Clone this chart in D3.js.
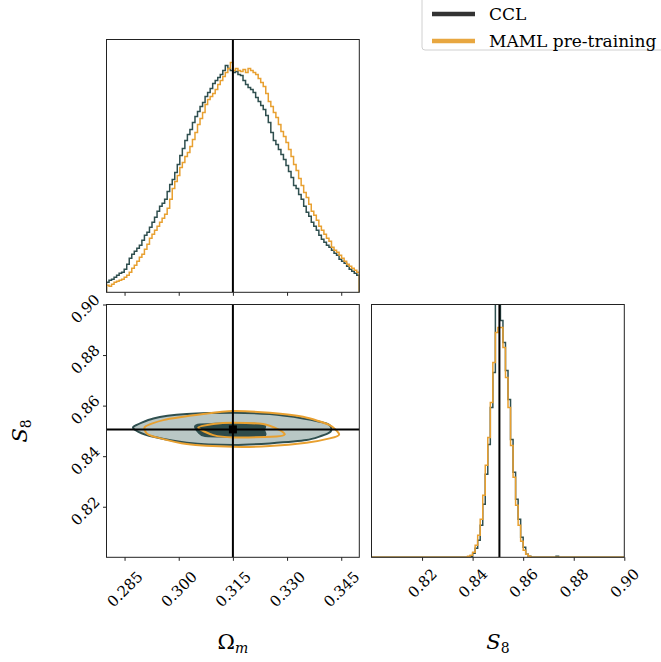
<!DOCTYPE html>
<html>
<head>
<meta charset="utf-8">
<script src="https://cdn.jsdelivr.net/npm/d3@7"></script>
<style>
  body { margin: 0; background: #fff; }
  svg { font-family: "DejaVu Serif", "Liberation Serif", serif; }
</style>
</head>
<body>
<div id="chart"></div>
<script>
// Corner plot: CCL vs MAML pre-training posteriors

// 1D histogram of Omega_m, 100 bins over [0.28, 0.35]
const omRange = [0.28, 0.35];
const cclOm = [10,12,13,15,17,19,20,23,28,34,
  38,41,44,47,52,57,60,65,70,75,
  81,86,89,93,101,108,113,120,128,137,
  144,152,158,163,170,176,181,186,190,196,
  200,204,209,212,215,218,222,227,224,222,
  220,221,218,217,212,208,205,203,200,195,
  191,187,183,177,170,160,152,148,143,138,
  133,127,121,115,107,104,98,93,86,80,
  76,70,66,62,57,53,50,47,45,42,
  39,37,33,31,29,26,23,21,19,17];
const mamlOm = [7,6,8,10,11,12,13,15,17,20,
  24,27,31,35,38,43,48,54,58,62,
  66,70,74,78,84,93,104,111,117,125,
  130,136,140,146,153,160,168,174,180,188,
  193,196,199,203,208,212,216,220,224,230,
  222,224,222,221,223,220,224,222,220,218,
  214,210,206,199,191,186,180,175,168,161,
  156,150,143,136,128,122,114,107,100,95,
  88,81,77,72,66,62,58,54,51,45,
  42,40,37,34,31,28,26,24,22,20];

// 1D histogram of S8, 100 bins over [0.80, 0.90]; bins not listed are empty
const s8Range = [0.80, 0.90];
const cclS8Bins = [39,40,41,42,43,44,45,46,47,48,49,50,51,52,53,54,55,56,57,58,59,60,61,62,73];
const cclS8 = [1,4,9,17,32,53,83,113,150,185,262,290,237,215,187,158,118,85,58,38,20,10,3,1,1];
const mamlS8Bins = [38,39,40,41,42,43,44,45,46,47,48,49,50,51,52,53,54,55,56,57,58,59,60,61,62];
const mamlS8 = [1,2,5,12,22,38,62,92,120,155,195,225,230,230,210,180,150,112,80,52,32,16,7,3,1];

// 2D contours [Omega_m, S8]
const cclOuter = [[0.28746,0.85162],[0.28884,0.84964],[0.29298,0.84767],[0.30221,0.84530],[0.31508,0.84439],
  [0.32522,0.84506],[0.33536,0.84636],[0.34133,0.84901],[0.34227,0.85099],[0.34088,0.85296],
  [0.33442,0.85494],[0.32522,0.85664],[0.31508,0.85715],[0.30221,0.85664],[0.29298,0.85494]];
const cclInner = [[0.30450,0.85170],[0.30588,0.85249],[0.31508,0.85296],[0.32343,0.85249],[0.32365,0.85032],
  [0.32356,0.84794],[0.31508,0.84775],[0.30727,0.84794],[0.30541,0.84953]];
const mamlOuter = [[0.29069,0.85162],[0.29116,0.84901],[0.29392,0.84743],[0.30221,0.84478],[0.31508,0.84372],
  [0.32522,0.84399],[0.33536,0.84530],[0.34180,0.84704],[0.34442,0.84862],[0.34180,0.85229],
  [0.33442,0.85557],[0.32522,0.85715],[0.31508,0.85783],[0.30680,0.85664],[0.29575,0.85427]];
const mamlInner = [[0.30541,0.85123],[0.30956,0.85269],[0.31508,0.85320],[0.32337,0.85269],[0.32798,0.85032],
  [0.32936,0.84862],[0.32707,0.84783],[0.31508,0.84743],[0.30956,0.84834]];

const truth = [0.315, 0.8506];
const omTicks = [0.285, 0.300, 0.315, 0.330, 0.345];
const s8Ticks = [0.82, 0.84, 0.86, 0.88, 0.90];
const seriesNames = ["CCL", "MAML pre-training"];

const cclColor = "#2f4f4f";
const mamlColor = "#e8a030";

const W = 661, H = 662;
const padL = 106.5, padT = 39.5, size = 252.8, gap = 12.2;

const svg = d3.select("#chart").append("svg")
  .attr("width", W).attr("height", H);

const xOm = d3.scaleLinear().domain(omRange).range([padL, padL + size]);
const xS8 = d3.scaleLinear().domain(s8Range).range([padL + size + gap, padL + 2 * size + gap]);
const y2 = d3.scaleLinear().domain([s8Range[1], s8Range[0]]).range([padT + size + gap, padT + 2 * size + gap]);
const yTop = d3.scaleLinear().domain([0, 1.1 * d3.max(mamlOm)]).range([padT + size, padT]);
const yRight = d3.scaleLinear().domain([0, 1.1 * d3.max(mamlS8)]).range([padT + 2 * size + gap, padT + size + gap]);

function clip(id, x, y) {
  svg.append("clipPath").attr("id", id)
    .append("rect").attr("x", x).attr("y", y).attr("width", size).attr("height", size);
  return svg.append("g").attr("clip-path", `url(#${id})`);
}

function stepPoints(values, range, bins) {
  const n = 100, w = (range[1] - range[0]) / n;
  const full = new Array(n).fill(0);
  if (bins) bins.forEach((b, i) => full[b] = values[i]);
  else values.forEach((v, i) => full[i] = v);
  const pts = [[range[0], 0]];
  full.forEach((v, i) => { pts.push([range[0] + i * w, v]); pts.push([range[0] + (i + 1) * w, v]); });
  pts.push([range[1], 0]);
  return pts;
}

// top-left: Omega_m histogram
const g1 = clip("c1", padL, padT);
[[cclOm, cclColor], [mamlOm, mamlColor]].forEach(([vals, col]) => {
  g1.append("path")
    .attr("d", d3.line().x(d => xOm(d[0])).y(d => yTop(d[1]))(stepPoints(vals, omRange)))
    .attr("fill", "none").attr("stroke", col).attr("stroke-width", 1.5);
});
g1.append("line").attr("x1", xOm(truth[0])).attr("x2", xOm(truth[0]))
  .attr("y1", padT).attr("y2", padT + size).attr("stroke", "#000").attr("stroke-width", 2);

// bottom-right: S8 histogram
const g3 = clip("c3", padL + size + gap, padT + size + gap);
[[cclS8, cclS8Bins, cclColor], [mamlS8, mamlS8Bins, mamlColor]].forEach(([vals, bins, col]) => {
  g3.append("path")
    .attr("d", d3.line().x(d => xS8(d[0])).y(d => yRight(d[1]))(stepPoints(vals, s8Range, bins)))
    .attr("fill", "none").attr("stroke", col).attr("stroke-width", 1.5);
});
g3.append("line").attr("x1", xS8(truth[1])).attr("x2", xS8(truth[1]))
  .attr("y1", padT + size + gap).attr("y2", padT + 2 * size + gap).attr("stroke", "#000").attr("stroke-width", 2);

// bottom-left: contours
const g2 = clip("c2", padL, padT + size + gap);
const ring = d3.line().x(d => xOm(d[0])).y(d => y2(d[1])).curve(d3.curveCardinalClosed.tension(0.3));
g2.append("path").attr("d", ring(cclOuter)).attr("fill", "#b9c7c5").attr("stroke", cclColor).attr("stroke-width", 2);
g2.append("path").attr("d", ring(cclInner)).attr("fill", "#2f4c4a").attr("stroke", cclColor).attr("stroke-width", 2);
g2.append("path").attr("d", ring(mamlOuter)).attr("fill", "none").attr("stroke", mamlColor).attr("stroke-width", 2);
g2.append("path").attr("d", ring(mamlInner)).attr("fill", "none").attr("stroke", mamlColor).attr("stroke-width", 2);
g2.append("line").attr("x1", xOm(truth[0])).attr("x2", xOm(truth[0]))
  .attr("y1", padT + size + gap).attr("y2", padT + 2 * size + gap).attr("stroke", "#000").attr("stroke-width", 2);
g2.append("line").attr("x1", padL).attr("x2", padL + size)
  .attr("y1", y2(truth[1])).attr("y2", y2(truth[1])).attr("stroke", "#000").attr("stroke-width", 2);
g2.append("rect").attr("x", xOm(truth[0]) - 4).attr("y", y2(truth[1]) - 4)
  .attr("width", 8).attr("height", 8).attr("fill", "#000");

// frames
[[padL, padT], [padL, padT + size + gap], [padL + size + gap, padT + size + gap]].forEach(([x, y]) => {
  svg.append("rect").attr("x", x).attr("y", y).attr("width", size).attr("height", size)
    .attr("fill", "none").attr("stroke", "#222").attr("stroke-width", 1);
});

// axes
function styleAxis(g) {
  g.attr("font-family", null);
  g.select(".domain").remove();
  g.selectAll(".tick line").attr("stroke", "#222");
  g.selectAll("text").attr("font-size", 15).attr("fill", "#000");
}
svg.append("g").attr("transform", `translate(0,${padT + size})`)
  .call(d3.axisBottom(xOm).tickValues(omTicks).tickSize(3.5).tickFormat(""))
  .call(styleAxis);

function rotLabels(g, dx, dy) {
  g.selectAll(".tick text")
    .attr("text-anchor", "middle").attr("dominant-baseline", "central")
    .attr("x", 0).attr("y", 0).attr("dy", null)
    .attr("transform", `translate(${dx},${dy}) rotate(-45)`);
}
svg.append("g").attr("transform", `translate(0,${padT + 2 * size + gap})`)
  .call(d3.axisBottom(xOm).tickValues(omTicks).tickSize(3.5).tickFormat(d3.format(".3f")))
  .call(styleAxis).call(g => rotLabels(g, 0, 32));
svg.append("g").attr("transform", `translate(0,${padT + 2 * size + gap})`)
  .call(d3.axisBottom(xS8).tickValues(s8Ticks).tickSize(3.5).tickFormat(d3.format(".2f")))
  .call(styleAxis).call(g => rotLabels(g, 0, 26));
svg.append("g").attr("transform", `translate(${padL},0)`)
  .call(d3.axisLeft(y2).tickValues(s8Ticks).tickSize(3.5).tickFormat(d3.format(".2f")))
  .call(styleAxis).call(g => rotLabels(g, -21, 4));

// axis titles
const omLabel = svg.append("text").attr("x", xOm(truth[0])).attr("y", 649)
  .attr("text-anchor", "middle").attr("font-size", 21);
omLabel.append("tspan").text("Ω");
omLabel.append("tspan").attr("font-style", "italic").attr("font-size", 14).attr("dy", 4).text("m");

const s8Label = svg.append("text").attr("x", xS8(0.85)).attr("y", 649)
  .attr("text-anchor", "middle").attr("font-size", 21);
s8Label.append("tspan").attr("font-style", "italic").text("S");
s8Label.append("tspan").attr("font-size", 14).attr("dy", 4).text("8");

const s8yLabel = svg.append("text").attr("transform", `translate(27,${y2(0.85)}) rotate(-90)`)
  .attr("text-anchor", "middle").attr("font-size", 21);
s8yLabel.append("tspan").attr("font-style", "italic").text("S");
s8yLabel.append("tspan").attr("font-size", 14).attr("dy", 4).text("8");

// legend
const lg = svg.append("g");
lg.append("rect").attr("x", 422).attr("y", -4).attr("width", 242).attr("height", 54).attr("rx", 3)
  .attr("fill", "#fff").attr("stroke", "#d0d0d0");
seriesNames.forEach((name, i) => {
  const y = 14 + i * 27;
  lg.append("line").attr("x1", 432).attr("x2", 475).attr("y1", y).attr("y2", y)
    .attr("stroke", i === 0 ? "#333" : "#e8a740").attr("stroke-width", 4.5);
  lg.append("text").attr("x", 489).attr("y", y + 6).attr("font-size", 17).text(name);
});
</script>
</body>
</html>
